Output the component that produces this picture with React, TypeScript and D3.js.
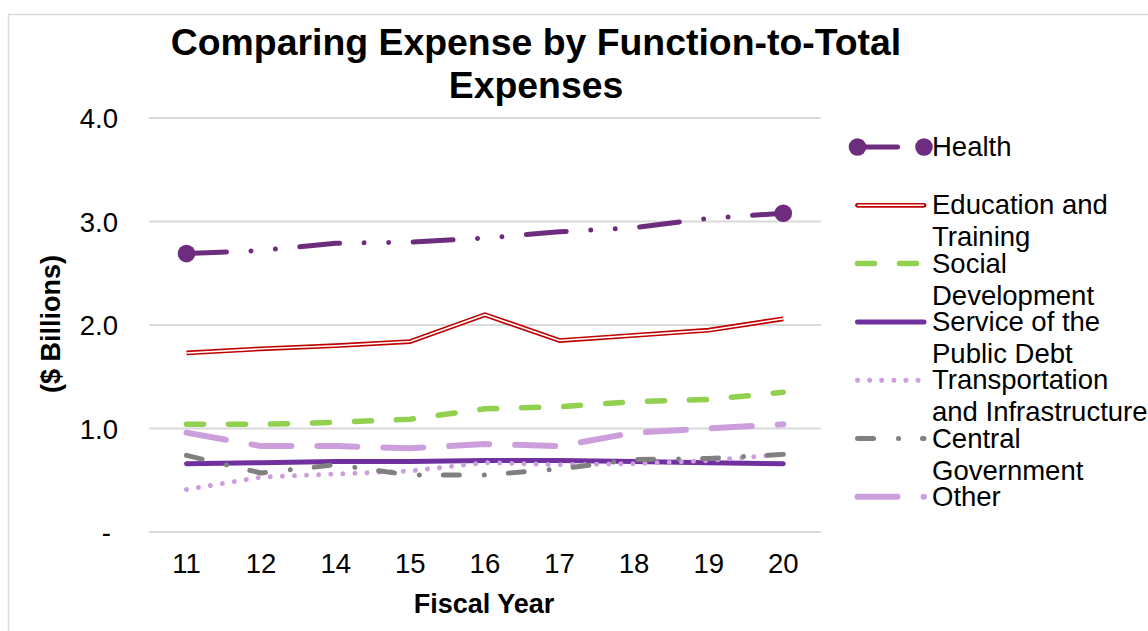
import React, {useEffect, useRef} from 'react';
import * as d3 from "d3";

const categories = ["11", "12", "14", "15", "16", "17", "18", "19", "20"];
const health = [2.69, 2.72, 2.79, 2.80, 2.84, 2.90, 2.94, 3.03, 3.08];
const education = [1.73, 1.77, 1.80, 1.84, 2.10, 1.85, 1.90, 1.95, 2.06];
const social = [1.04, 1.04, 1.06, 1.09, 1.19, 1.21, 1.26, 1.28, 1.35];
const publicDebt = [0.66, 0.67, 0.68, 0.68, 0.69, 0.69, 0.68, 0.67, 0.66];
const transport = [0.41, 0.53, 0.56, 0.59, 0.67, 0.65, 0.66, 0.69, 0.75];
const central = [0.74, 0.57, 0.65, 0.55, 0.55, 0.61, 0.70, 0.71, 0.75];
const other = [0.96, 0.83, 0.83, 0.81, 0.85, 0.83, 0.96, 1.00, 1.04];

const yTicks = [0, 1, 2, 3, 4];
const yTickLabels = ["-", "1.0", "2.0", "3.0", "4.0"];

const series = [
    {name: ["Health"], values: health, color: "#6E2C7E", width: 5, dash: "40 24.5 0.01 24.5 0.01 24.5", markers: true},
    {name: ["Education and", "Training"], values: education, color: "#C00000", width: 4.8, dash: null, double: true},
    {name: ["Social", "Development"], values: social, color: "#92D050", width: 5.5, dash: "17 25"},
    {name: ["Service of the", "Public Debt"], values: publicDebt, color: "#7030A0", width: 5, dash: null},
    {name: ["Transportation", "and Infrastructure"], values: transport, color: "#CC9FDC", width: 5, dash: "0.01 12.1"},
    {name: ["Central", "Government"], values: central, color: "#808080", width: 5, dash: "16 25 0.01 24"},
    {name: ["Other"], values: other, color: "#CC9FDC", width: 6, dash: "40 26"},
];

const FONT = "'Liberation Sans', Arial, sans-serif";

function App() {
    const ref = useRef<SVGSVGElement>(null);

    useEffect(() => {
        const svg = d3.select(ref.current);
        svg.selectAll("*").remove();

        // chart frame
        svg.append("rect")
            .attr("x", 8.5).attr("y", 14.5)
            .attr("width", 1300).attr("height", 800)
            .attr("fill", "white")
            .attr("stroke", "#D9D9D9").attr("stroke-width", 1.5);

        const xScale = d3.scalePoint()
            .domain(categories)
            .range([186.5, 783.3]);
        const yScale = d3.scaleLinear()
            .domain([0, 4])
            .range([532, 118]);

        // gridlines
        svg.append("g").selectAll("line")
            .data(yTicks)
            .join("line")
            .attr("x1", 149).attr("x2", 821)
            .attr("y1", d => yScale(d)).attr("y2", d => yScale(d))
            .attr("stroke", "#D9D9D9").attr("stroke-width", 2);

        // y tick labels
        svg.append("g").selectAll("text")
            .data(yTicks)
            .join("text")
            .attr("x", (d, i) => i === 0 ? 111 : 118)
            .attr("y", d => yScale(d) + 10)
            .attr("text-anchor", "end")
            .attr("font-family", FONT).attr("font-size", 27.5)
            .text((d, i) => yTickLabels[i]);

        // x tick labels
        svg.append("g").selectAll("text")
            .data(categories)
            .join("text")
            .attr("x", d => xScale(d)!)
            .attr("y", 573)
            .attr("text-anchor", "middle")
            .attr("font-family", FONT).attr("font-size", 27.5)
            .text(d => d);

        // titles
        const title = svg.append("text")
            .attr("text-anchor", "middle")
            .attr("font-family", FONT).attr("font-size", 37.4).attr("font-weight", "bold");
        title.append("tspan").attr("x", 536).attr("y", 55).text("Comparing Expense by Function-to-Total");
        title.append("tspan").attr("x", 536).attr("y", 98).text("Expenses");

        svg.append("text")
            .attr("x", 484).attr("y", 613)
            .attr("text-anchor", "middle")
            .attr("font-family", FONT).attr("font-size", 27).attr("font-weight", "bold")
            .text("Fiscal Year");

        svg.append("text")
            .attr("transform", "translate(60,324) rotate(-90)")
            .attr("text-anchor", "middle")
            .attr("font-family", FONT).attr("font-size", 27).attr("font-weight", "bold")
            .text("($ Billions)");

        const line = d3.line<number>()
            .x((d, i) => xScale(categories[i])!)
            .y(d => yScale(d));

        const lines = svg.append("g");
        series.forEach(s => {
            const p = lines.append("path")
                .attr("d", line(s.values))
                .attr("fill", "none")
                .attr("stroke", s.color)
                .attr("stroke-width", s.width)
                .attr("stroke-linecap", s.double ? "butt" : "round")
                .attr("stroke-linejoin", "round");
            if (s.dash) p.attr("stroke-dasharray", s.dash);
            if (s.double) {
                lines.append("path")
                    .attr("d", line(s.values))
                    .attr("fill", "none")
                    .attr("stroke", "white")
                    .attr("stroke-width", 1.6);
            }
            if (s.markers) {
                const n = s.values.length - 1;
                lines.selectAll(null)
                    .data([0, n])
                    .join("circle")
                    .attr("cx", i => xScale(categories[i])!)
                    .attr("cy", i => yScale(s.values[i]))
                    .attr("r", 8.8)
                    .attr("fill", s.color);
            }
        });

        // legend
        const legend = svg.append("g");
        series.forEach((s, i) => {
            const ly = 147 + i * 58.3;
            const x1 = 857.5, x2 = 924;
            const p = legend.append("line")
                .attr("x1", x1).attr("x2", x2)
                .attr("y1", ly).attr("y2", ly)
                .attr("stroke", s.color)
                .attr("stroke-width", s.width)
                .attr("stroke-linecap", "round");
            if (s.dash) p.attr("stroke-dasharray", s.dash);
            if (s.double) {
                legend.append("line")
                    .attr("x1", x1).attr("x2", x2)
                    .attr("y1", ly).attr("y2", ly)
                    .attr("stroke", "white")
                    .attr("stroke-width", 1.6);
            }
            if (s.markers) {
                [x1, x2].forEach(cx => {
                    legend.append("circle")
                        .attr("cx", cx).attr("cy", ly).attr("r", 8.8)
                        .attr("fill", s.color);
                });
            }
            const t = legend.append("text")
                .attr("font-family", FONT).attr("font-size", 27.5);
            s.name.forEach((nm, j) => {
                t.append("tspan").attr("x", 932).attr("y", ly + 9 + j * 32).text(nm);
            });
        });
    }, []);

    return (
        <svg ref={ref} width={1148} height={631}
             style={{position: "absolute", left: 0, top: 0, display: "block", background: "white"}}/>
    );
}

export default App;
